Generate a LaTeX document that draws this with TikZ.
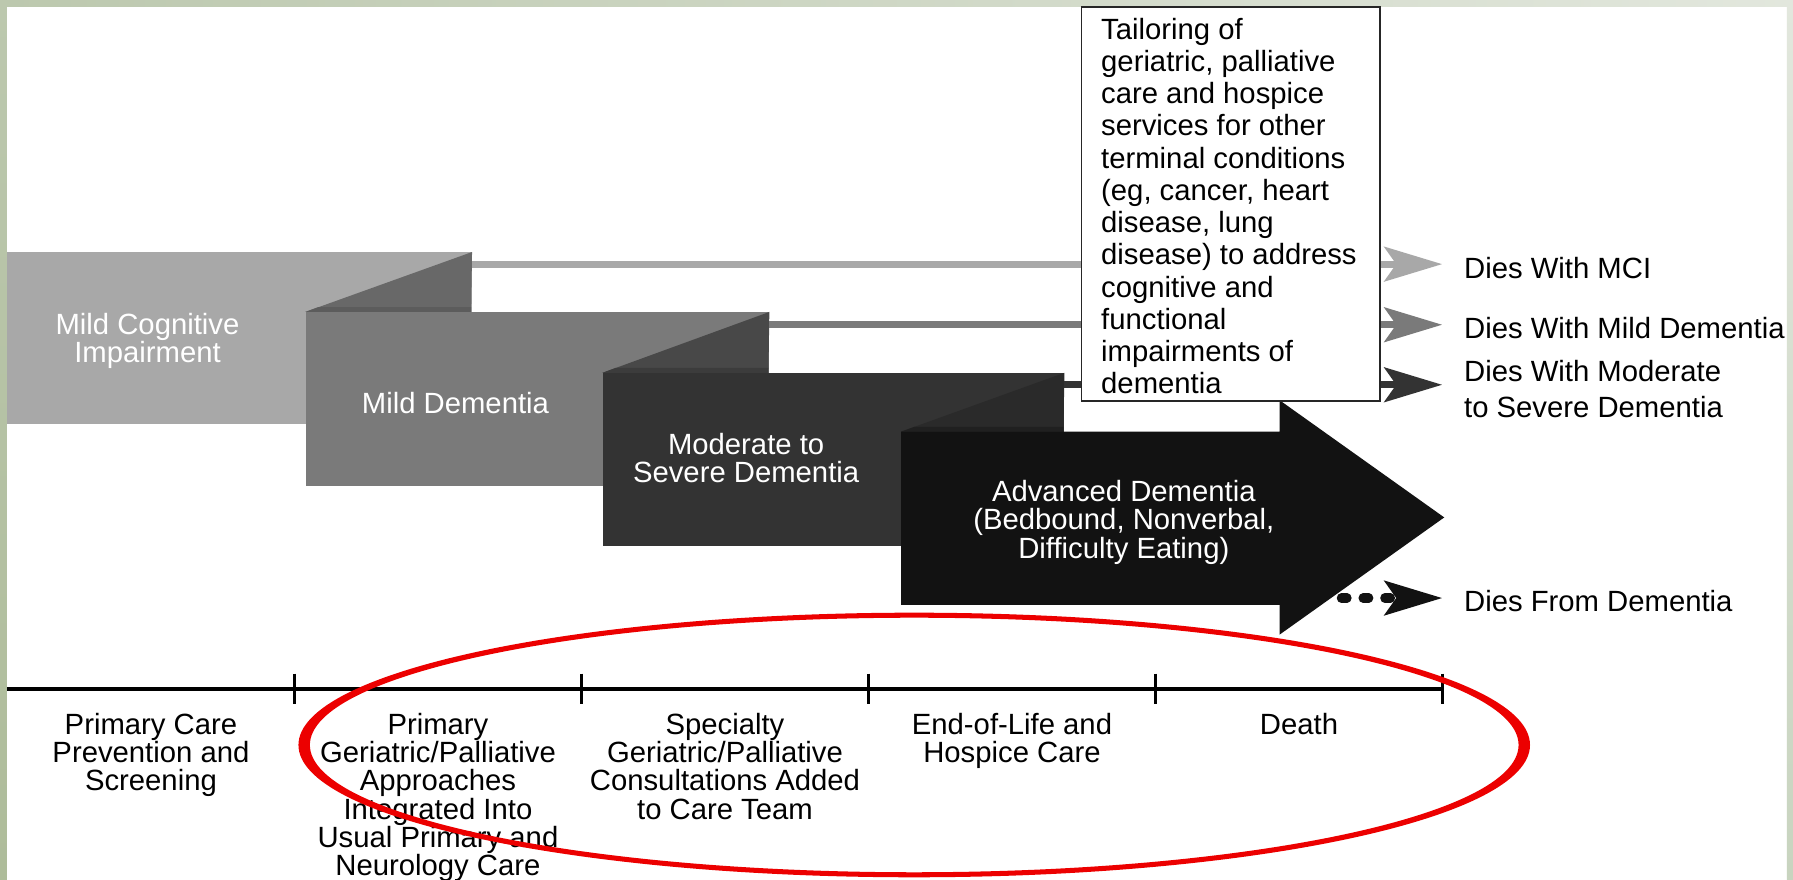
\documentclass[tikz,border=0pt]{standalone}
\usepackage{fontspec}
\setmainfont{Liberation Sans}
\usetikzlibrary{arrows.meta}

% stage greys, light to dark
\definecolor{mcigray}{RGB}{168,168,168}
\definecolor{mildgray}{RGB}{122,122,122}
\definecolor{modgray}{RGB}{51,51,51}
\definecolor{advgray}{RGB}{18,18,18}
% shaded folds between stages
\definecolor{foldA}{RGB}{104,104,104}
\definecolor{foldAb}{RGB}{92,92,92}
\definecolor{foldB}{RGB}{72,72,72}
\definecolor{foldBb}{RGB}{60,60,60}
\definecolor{foldC}{RGB}{42,42,42}
\definecolor{foldCb}{RGB}{32,32,32}
% page frame
\definecolor{frameA}{RGB}{188,200,174}
\definecolor{frameB}{RGB}{226,231,221}
\definecolor{frameC}{RGB}{174,188,154}
\definecolor{frameD}{RGB}{200,212,191}
\definecolor{ringred}{RGB}{236,0,0}

\begin{document}
\begin{tikzpicture}[x=0.5pt,y=-0.5pt,
  txt/.style={font=\fontsize{12.8pt}{12.4pt}\selectfont, inner sep=0pt},
  stagetxt/.style={txt, text=white, align=center, anchor=north},
  phasetxt/.style={txt, text=black, align=center, anchor=north},
  outcome/.style={txt, text=black, anchor=west, align=left},
  stagebox/.style={rectangle, draw=none, inner sep=0pt, anchor=north west},
  flow/.style={line width=3pt, -{Stealth[length=25.5pt,width=15.5pt,inset=5.5pt,line width=0pt]}},
  dotflow/.style={line width=4pt, line cap=round, dash pattern=on 2.5pt off 7pt,
    -{Stealth[length=25.5pt,width=15.5pt,inset=5.5pt,line width=0pt,line cap=butt]}},
]
\useasboundingbox (0,0) rectangle (1568,769);

% page and its frame
\fill[white] (0,0) rectangle (1568,769);
\shade[left color=frameA, right color=frameB] (0,0) rectangle (1568,5.3);
\shade[top color=frameA, bottom color=frameC] (0,0) rectangle (6.1,769);
\shade[top color=frameB, bottom color=frameD] (1562.7,0) rectangle (1568,769);

% stage blocks
\node[stagebox, fill=mcigray, minimum width=203pt, minimum height=75.1pt] (mci) at (6,220.4) {};
\fill[foldA] (267,272.8) -- (mci.north east) -- (412,272.8) -- cycle;
\fill[foldAb] (267,272.8) -- (278.6,268.5) -- (412,268.5) -- (412,272.8) -- cycle;

\node[stagebox, fill=mildgray, minimum width=202.5pt, minimum height=76.1pt] (mild) at (267,272.8) {};
\fill[foldB] (527,326) -- (mild.north east) -- (672,326) -- cycle;
\fill[foldBb] (527,326) -- (538.3,321.8) -- (672,321.8) -- (672,326) -- cycle;

\node[stagebox, fill=modgray, minimum width=201.5pt, minimum height=75.5pt] (mod) at (527,326) {};
\fill[foldC] (788,377.5) -- (mod.north east) -- (930,377.5) -- cycle;
\fill[foldCb] (788,377.5) -- (799.6,373.3) -- (930,373.3) -- (930,377.5) -- cycle;

% advanced stage arrow
\fill[advgray] (788,377.5) -- (1119,377.5) -- (1119,350) -- (1263,452.5)
  -- (1119,555) -- (1119,529) -- (788,529) -- cycle;

% stage labels
\node[stagetxt] (mcitxt) at (129,273.3) {Mild Cognitive\\Impairment};
\node[stagetxt] (mildtxt) at (398.3,343.1) {Mild Dementia};
\node[stagetxt] (modtxt) at (652.5,378.1) {Moderate to\\Severe Dementia};
\node[stagetxt] (advtxt) at (982.8,419.5) {Advanced Dementia\\(Bedbound, Nonverbal,\\Difficulty Eating)};

% outcomes
\node[outcome] (dmci) at (1280,234.7) {Dies With MCI};
\node[outcome] (dmild) at (1280,287) {Dies With Mild Dementia};
\node[outcome, anchor=north west, font=\fontsize{12.8pt}{16pt}\selectfont] (dmod) at (1280,314.5) {Dies With Moderate\\to Severe Dementia};
\node[outcome] (ddem) at (1280,526) {Dies From Dementia};

% exits to the outcomes
\coordinate (tipcol) at (1261,0);
\coordinate (mciout) at ([yshift=-5.3pt]mci.north east);
\coordinate (mildout) at ([yshift=-5.6pt]mild.north east);
\coordinate (modout) at ([yshift=-5.25pt]mod.north east);
\coordinate (advout) at (1173,523);
\draw[flow, color=mcigray] (mciout) -- (mciout -| tipcol);
\draw[flow, color=mildgray] (mildout) -- (mildout -| tipcol);
\draw[flow, color=modgray] (modout) -- (modout -| tipcol);
\draw[dotflow, color=advgray] (advout) -- (advout -| tipcol);

% note on tailoring of services
\node[draw=black!85, line width=0.7pt, fill=white, anchor=north west,
  minimum width=130.5pt, minimum height=172.3pt, inner sep=0pt] (tailor) at (945.2,5.2) {};
\node[txt, anchor=north west, align=left, font=\fontsize{12.8pt}{14.1pt}\selectfont] (tailortxt)
  at (962.6,15.3) {Tailoring of\\geriatric, palliative\\care and hospice\\services for other\\terminal conditions\\(eg, cancer, heart\\disease, lung\\disease) to address\\cognitive and\\functional\\impairments of\\dementia};

% care timeline
\coordinate (tlstart) at (6,602.5);
\coordinate (tlend) at (1261.5,602.5);
\draw[line width=1.75pt] (tlstart) -- (tlend);
\foreach \x in {257.5,508.5,759.5,1010.5,1261.5}
  \draw[line width=1.5pt] (\x,589) -- (\x,615.5);

\node[phasetxt] (ph1) at (132,623) {Primary Care\\Prevention and\\Screening};
\node[phasetxt] (ph2) at (383,623) {Primary\\Geriatric/Palliative\\Approaches\\Integrated Into\\Usual Primary and\\Neurology Care};
\node[phasetxt] (ph3) at (634,623) {Specialty\\Geriatric/Palliative\\Consultations Added\\to Care Team};
\node[phasetxt] (ph4) at (885,623) {End-of-Life and\\Hospice Care};
\node[phasetxt] (ph5) at (1136,623) {Death};

% highlight ring
\fill[ringred, even odd rule]
  (799.5,651.5) ellipse [x radius=538.5, y radius=115.7]
  (799.5,651.5) ellipse [x radius=528.5, y radius=111.3];
\end{tikzpicture}
\end{document}
